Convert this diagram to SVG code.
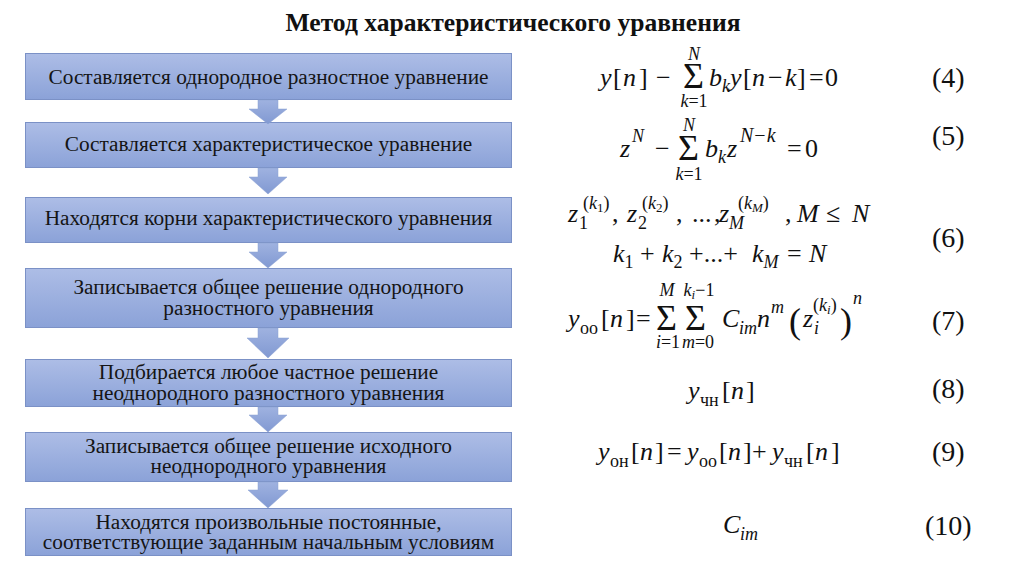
<svg xmlns="http://www.w3.org/2000/svg" width="1024" height="574" viewBox="0 0 1024 574">
<defs>
<linearGradient id="gb" x1="0" y1="0" x2="0" y2="1">
<stop offset="0" stop-color="#adbde6"/>
<stop offset="1" stop-color="#8ba2d8"/>
</linearGradient>
<linearGradient id="ga" x1="0" y1="0" x2="0" y2="1">
<stop offset="0" stop-color="#9fb2e0"/>
<stop offset="1" stop-color="#8199d2"/>
</linearGradient>
<style>
.box{fill:url(#gb);stroke:#7b91c6;stroke-width:1}
.arr{fill:url(#ga);stroke:#8ba0d3;stroke-width:0.5}
.bt{font-size:21.3px;fill:#151515;text-anchor:middle}
.m{font-size:26px;fill:#111}
.i{font-style:italic}
.s{font-size:18px}
.ss{font-size:13px}
.sg{font-size:36px}
.c{text-anchor:middle}
.num{font-size:28px;fill:#111}
</style>
</defs>
<rect width="1024" height="574" fill="#ffffff"/>
<g font-family="Liberation Serif, serif">
<text x="513" y="31" font-size="25" font-weight="bold" text-anchor="middle" textLength="455" lengthAdjust="spacingAndGlyphs" fill="#111">Метод характеристического уравнения</text>

<g id="n1"><rect class="box" x="25.5" y="53.5" width="486" height="46"/><text class="bt" x="268.5" y="84">Составляется однородное разностное уравнение</text></g>
<g id="n2"><rect class="box" x="25.5" y="122.5" width="486" height="45"/><text class="bt" x="268.5" y="151">Составляется характеристическое уравнение</text></g>
<g id="n3"><rect class="box" x="25.5" y="197.5" width="486" height="45"/><text class="bt" x="268.5" y="225">Находятся корни характеристического уравнения</text></g>
<g id="n4"><rect class="box" x="25.5" y="268.5" width="486" height="59"/><text class="bt" x="268.5" y="294">Записывается общее решение однородного</text><text class="bt" x="268.5" y="315">разностного уравнения</text></g>
<g id="n5"><rect class="box" x="25.5" y="359.5" width="486" height="47"/><text class="bt" x="268.5" y="379">Подбирается любое частное решение</text><text class="bt" x="268.5" y="400">неоднородного разностного уравнения</text></g>
<g id="n6"><rect class="box" x="25.5" y="432.5" width="486" height="49"/><text class="bt" x="268.5" y="453">Записывается общее решение исходного</text><text class="bt" x="268.5" y="473">неоднородного уравнения</text></g>
<g id="n7"><rect class="box" x="25.5" y="508.5" width="486" height="47"/><text class="bt" x="268.5" y="529">Находятся произвольные постоянные,</text><text class="bt" x="268.5" y="549">соответствующие заданным начальным условиям</text></g>

<g id="connectors">
<polygon class="arr" points="258,100 278,100 278,109 287,109 268,124 249,109 258,109"/>
<polygon class="arr" points="258,168 278,168 278,177 287,177 268,194 249,177 258,177"/>
<polygon class="arr" points="258,243 278,243 278,252 287,252 268,268 249,252 258,252"/>
<polygon class="arr" points="258,328 278,328 278,338 289,338 268,358 247,338 258,338"/>
<polygon class="arr" points="258,407 278,407 278,415 287,415 268,432 249,415 258,415"/>
<polygon class="arr" points="258,482 278,482 278,490 288,490 268,508 248,490 258,490"/>
</g>

<g id="eq4" class="m">
<text x="600" y="86" class="i">y</text><text x="613" y="86">[</text><text x="623" y="86" class="i">n</text><text x="639" y="86">]</text>
<text x="656" y="86">−</text>
<text x="683" y="88" class="sg">Σ</text>
<text x="694" y="60" class="i s c">N</text>
<text x="694" y="107" class="s c"><tspan class="i">k</tspan>=1</text>
<text x="709" y="86" class="i">b</text><text x="722" y="92" class="i s">k</text>
<text x="730" y="86" class="i">y</text><text x="743" y="86">[</text><text x="752" y="86" class="i">n</text>
<text x="768" y="86">−</text><text x="785" y="86" class="i">k</text><text x="797" y="86">]</text>
<text x="809" y="86">=</text><text x="825" y="86">0</text>
</g>
<text class="num" x="932" y="87">(4)</text>

<g id="eq5" class="m">
<text x="620" y="157" class="i">z</text><text x="632" y="142" class="i s">N</text>
<text x="655" y="157">−</text>
<text x="678" y="160" class="sg">Σ</text>
<text x="689" y="131" class="i s c">N</text>
<text x="689" y="180" class="s c"><tspan class="i">k</tspan>=1</text>
<text x="705" y="157" class="i">b</text><text x="718" y="163" class="i s">k</text>
<text x="727" y="157" class="i">z</text><text x="740" y="142" style="font-size:20px"><tspan class="i">N</tspan><tspan dx="1">−</tspan><tspan class="i" dx="1">k</tspan></text>
<text x="787" y="157">=</text><text x="805" y="157">0</text>
</g>
<text class="num" x="932" y="145">(5)</text>

<g id="eq6" class="m">
<text x="568" y="222" class="i">z</text><text x="579" y="229" class="s">1</text>
<text x="583" y="209" class="s">(<tspan class="i">k</tspan><tspan class="ss" dy="3">1</tspan><tspan dy="-3">)</tspan></text>
<text x="612" y="222">,</text>
<text x="627" y="222" class="i">z</text><text x="638" y="229" class="s">2</text>
<text x="642" y="209" class="s">(<tspan class="i">k</tspan><tspan class="ss" dy="3">2</tspan><tspan dy="-3">)</tspan></text>
<text x="676" y="222">,</text>
<text x="692" y="222">...</text>
<text x="714" y="222">,</text>
<text x="719" y="222" class="i">z</text><text x="729" y="229" class="i s">M</text>
<text x="738" y="209" class="s">(<tspan class="i">k</tspan><tspan class="i ss" dy="3">M</tspan><tspan dy="-3">)</tspan></text>
<text x="785" y="222">,</text>
<text x="797" y="222" class="i">M</text><text x="826" y="222">≤</text><text x="852" y="222" class="i">N</text>
<text x="613" y="262" class="i">k</text><text x="624.5" y="268" class="s">1</text>
<text x="640" y="262">+</text>
<text x="662" y="262" class="i">k</text><text x="673.5" y="268" class="s">2</text>
<text x="689" y="262">+...+</text>
<text x="752" y="262" class="i">k</text><text x="763.5" y="268" class="i s">M</text>
<text x="787" y="262">=</text><text x="809" y="262" class="i">N</text>
</g>
<text class="num" x="932" y="247">(6)</text>

<g id="eq7" class="m">
<text x="568" y="327" class="i">y</text><text x="580" y="334" class="s">оо</text>
<text x="601" y="327">[</text><text x="610" y="327" class="i">n</text><text x="626" y="327">]</text>
<text x="636" y="327">=</text>
<text x="656" y="330" class="sg">Σ</text>
<text x="667" y="296" class="i s c">M</text>
<text x="668" y="348" class="s c"><tspan class="i">i</tspan>=1</text>
<text x="685" y="330" class="sg">Σ</text>
<text x="699" y="296" class="s c"><tspan class="i">k</tspan><tspan class="i ss" dy="3">i</tspan><tspan dy="-3">−1</tspan></text>
<text x="698" y="348" class="s c"><tspan class="i">m</tspan>=0</text>
<text x="722" y="327" class="i">C</text><text x="739" y="334" class="i s">im</text>
<text x="757" y="327" class="i">n</text><text x="771" y="313" class="i s">m</text>
<text x="789" y="333" style="font-size:36px">(</text>
<text x="803" y="327" class="i">z</text><text x="814" y="334" class="i s">i</text>
<text x="813" y="311" class="s">(<tspan class="i">k</tspan><tspan class="i ss" dy="3">i</tspan><tspan dy="-3">)</tspan></text>
<text x="840" y="333" style="font-size:36px">)</text>
<text x="853" y="304" class="i s">n</text>
</g>
<text class="num" x="932" y="330">(7)</text>

<g id="eq8" class="m">
<text x="688" y="399" class="i">y</text><text x="700" y="406" class="s">чн</text>
<text x="722" y="399">[</text><text x="731" y="399" class="i">n</text><text x="746" y="399">]</text>
</g>
<text class="num" x="932" y="398">(8)</text>

<g id="eq9" class="m">
<text x="598" y="460" class="i">y</text><text x="610" y="467" class="s">он</text>
<text x="631" y="460">[</text><text x="640" y="460" class="i">n</text><text x="655" y="460">]</text>
<text x="667" y="460">=</text>
<text x="687" y="460" class="i">y</text><text x="699" y="467" class="s">оо</text>
<text x="719" y="460">[</text><text x="728" y="460" class="i">n</text><text x="743" y="460">]</text>
<text x="752" y="460">+</text>
<text x="772" y="460" class="i">y</text><text x="784" y="467" class="s">чн</text>
<text x="806" y="460">[</text><text x="815" y="460" class="i">n</text><text x="831" y="460">]</text>
</g>
<text class="num" x="932" y="461">(9)</text>

<g id="eq10" class="m">
<text x="723" y="533" class="i">C</text><text x="740" y="540" class="i s">im</text>
</g>
<text class="num" x="925" y="535">(10)</text>
</g>
</svg>
